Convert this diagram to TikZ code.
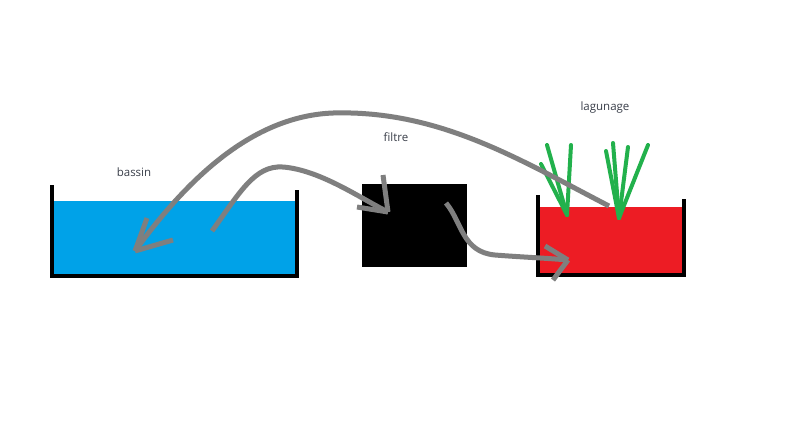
\documentclass[tikz,border=0pt]{standalone}
\usepackage{fontspec}
\setmainfont{Open Sans}
\definecolor{water}{HTML}{00A2E8}
\definecolor{lagoon}{HTML}{ED1C24}
\definecolor{reed}{HTML}{22B14C}
\definecolor{flow}{HTML}{7F7F7F}
\definecolor{txt}{HTML}{3A3F4A}
\begin{document}
\begin{tikzpicture}[x=1pt,y=-1pt,
  lbl/.style={text=txt,font=\fontsize{11.5}{13}\selectfont,inner sep=0pt},
  tank/.style={draw=none,minimum width=#1,inner sep=0pt,outer sep=0pt},
  wall/.style={black,line width=4pt,line join=miter},
  flowline/.style={flow,line width=5pt},
  reedline/.style={reed,line width=4pt,line cap=round}]
\useasboundingbox[fill=white] (0,0) rectangle (800,445);
% bassin
\node[tank=243pt,minimum height=75pt,fill=water,anchor=north west] (bassin) at (53,201) {};
\draw[wall] (51.5,185) -- (51.5,275.5) -- (297,275.5) -- (297,190);
\node[lbl] (lbassin) at (134,172) {bassin};
% filtre
\node[tank=105pt,minimum height=83pt,fill=black,anchor=north west] (filtre) at (362,184) {};
\node[lbl] (lfiltre) at (396,137) {filtre};
% lagunage
\node[tank=143pt,minimum height=68pt,fill=lagoon,anchor=north west] (lagunage) at (540,207) {};
\draw[wall] (538,195) -- (538,274.5) -- (683.5,274.5) -- (683.5,199);
\node[lbl] (llagunage) at (605,108) {lagunage};
% reeds
\coordinate (r1) at (567,215);
\coordinate (r2) at (619,218);
\draw[reedline] (r1) -- (547,145);
\draw[reedline] (r1) -- (571,145);
\draw[reedline] (r1) -- (541,164);
\draw[reedline] (r2) -- (606,151);
\draw[reedline] (r2) -- (613,143);
\draw[reedline] (r2) -- (628,147);
\draw[reedline] (r2) -- (648,145);
% flows
\coordinate (a1s) at (609,206);
\coordinate (a1e) at (135,251);
\draw[flowline] (a1s) .. controls (520,160) and (440,110) .. (333,113)
  .. controls (255,116) and (190,175) .. (a1e);
\draw[flowline] (a1e) -- (147,218);
\draw[flowline] (a1e) -- (173,240);
\coordinate (a2s) at (212,231);
\coordinate (a2e) at (388,212);
\draw[flowline] (a2s) .. controls (240,192) and (255,165) .. (283,167)
  .. controls (320,170) and (360,198) .. (a2e);
\draw[flowline] (a2e) -- (383,175);
\draw[flowline] (a2e) -- (357,207);
\coordinate (a3s) at (446,203);
\coordinate (a3e) at (568,260);
\draw[flowline] (a3s) .. controls (462,222) and (462,252) .. (495,255)
  .. controls (520,257) and (545,258) .. (a3e);
\draw[flowline] (a3e) -- (545,246);
\draw[flowline] (a3e) -- (553,280);
\end{tikzpicture}
\end{document}
